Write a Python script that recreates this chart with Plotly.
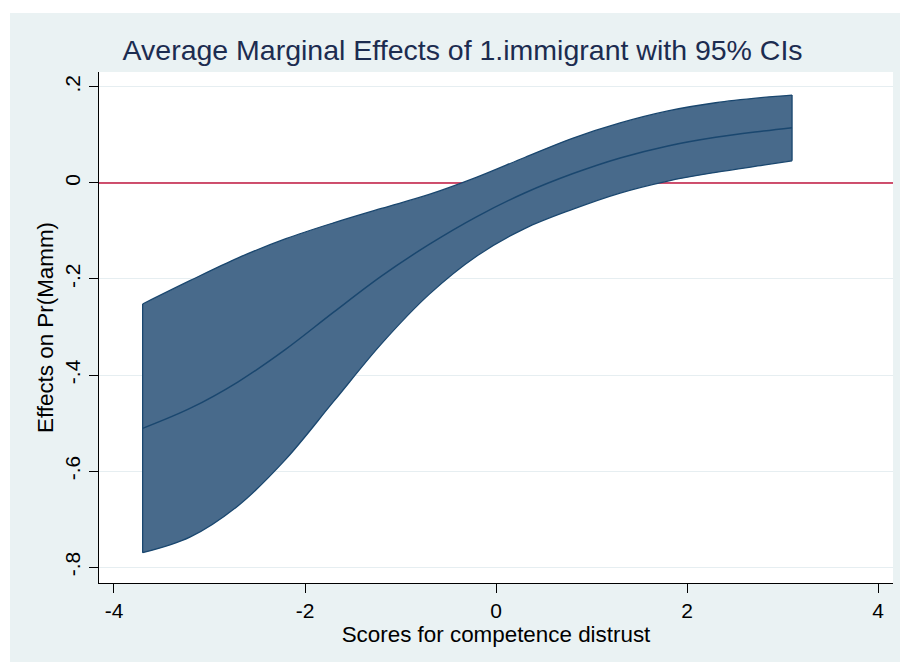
import plotly.graph_objects as go

# Scores for competence distrust at which the margins are evaluated
score = [-3.7, -3.2, -2.7, -2.2, -1.7, -1.2, -0.7, -0.2, 0.3, 0.8, 1.3, 1.8, 2.3, 2.8, 3.1]
# Average marginal effect of 1.immigrant on Pr(Mamm)
ame = [-0.511, -0.469, -0.414, -0.346, -0.269, -0.194, -0.128, -0.070, -0.021, 0.019, 0.052, 0.077, 0.095, 0.108, 0.115]
# 95% confidence bounds
ci_upper = [-0.252, -0.203, -0.156, -0.116, -0.083, -0.053, -0.024, 0.012, 0.053, 0.093, 0.125, 0.150, 0.167, 0.178, 0.183]
ci_lower = [-0.770, -0.737, -0.672, -0.575, -0.455, -0.335, -0.232, -0.152, -0.095, -0.055, -0.021, 0.004, 0.022, 0.037, 0.046]

y_ticks = [-0.8, -0.6, -0.4, -0.2, 0, 0.2]
y_ticktext = ["-.8", "-.6", "-.4", "-.2", "0", ".2"]
x_ticks = [-4, -2, 0, 2, 4]
x_ticktext = ["-4", "-2", "0", "2", "4"]
x_range = [-4.157, 4.157]
y_range = [-0.833, 0.231]

NAVY = "#1A476F"
BAND = "rgb(72,106,139)"
GRAPH_BG = "#EAF2F3"
FONT = "Liberation Sans, Arial, sans-serif"
SMOOTH = dict(shape="spline", smoothing=1.0)

fig = go.Figure()

# reference line at zero (drawn first so the band sits on top of it)
fig.add_trace(go.Scatter(x=x_range, y=[0, 0], mode="lines", line=dict(color="#C2173F", width=1.6),
                         hoverinfo="skip", showlegend=False))

# confidence band (fill between lower and upper bounds)
fig.add_trace(go.Scatter(x=score, y=ci_lower, mode="lines", line=dict(width=0, **SMOOTH),
                         hoverinfo="skip", showlegend=False))
fig.add_trace(go.Scatter(x=score, y=ci_upper, mode="lines", fill="tonexty", fillcolor=BAND,
                         line=dict(width=0, **SMOOTH), hoverinfo="skip", showlegend=False))
# band outline
for bound in (ci_upper, ci_lower):
    fig.add_trace(go.Scatter(x=score, y=bound, mode="lines",
                             line=dict(color=NAVY, width=1.3, **SMOOTH), showlegend=False))
for i in (0, -1):
    fig.add_trace(go.Scatter(x=[score[i], score[i]], y=[ci_lower[i], ci_upper[i]], mode="lines",
                             line=dict(color=NAVY, width=1.3), showlegend=False))
# point estimate
fig.add_trace(go.Scatter(x=score, y=ame, mode="lines",
                         line=dict(color=NAVY, width=1.5, **SMOOTH), showlegend=False))

# white page margin around the graph region
fig.add_shape(type="rect", xref="paper", yref="paper", x0=-0.2, x1=-0.1121, y0=-0.3, y1=1.3,
              fillcolor="white", line_width=0, layer="below")
fig.add_shape(type="rect", xref="paper", yref="paper", x0=-0.2, x1=1.2, y0=1.1155, y1=1.3,
              fillcolor="white", line_width=0, layer="below")

fig.update_layout(
    width=900, height=662,
    margin=dict(l=99, r=7, t=72, b=79),
    paper_bgcolor=GRAPH_BG,
    plot_bgcolor="white",
    font=dict(family=FONT, color="black", size=22),
    title=dict(text="Average Marginal Effects of 1.immigrant with 95% CIs",
               font=dict(family=FONT, size=28.5, color="#1C2C50"),
               x=0.514, xref="container", xanchor="center",
               y=1 - 50 / 662, yref="container", yanchor="middle"),
    xaxis=dict(range=x_range, tickvals=x_ticks, ticktext=x_ticktext,
               showgrid=False, zeroline=False, showline=True, linecolor="black", linewidth=1.3,
               ticks="outside", ticklen=9, tickwidth=1.3, tickcolor="black",
               tickfont=dict(size=21),
               title=dict(text="Scores for competence distrust", standoff=2, font=dict(size=22.4))),
    yaxis=dict(range=y_range, tickvals=y_ticks, ticktext=y_ticktext, tickangle=-90,
               showgrid=True, gridcolor="#E6EEF1", gridwidth=1.3, zeroline=False,
               showline=True, linecolor="black", linewidth=1.3,
               ticks="outside", ticklen=9, tickwidth=1.3, tickcolor="black",
               tickfont=dict(size=21),
               title=dict(text="Effects on Pr(Mamm)", standoff=1, font=dict(size=22.4))),
)

fig.write_html("out.html")
